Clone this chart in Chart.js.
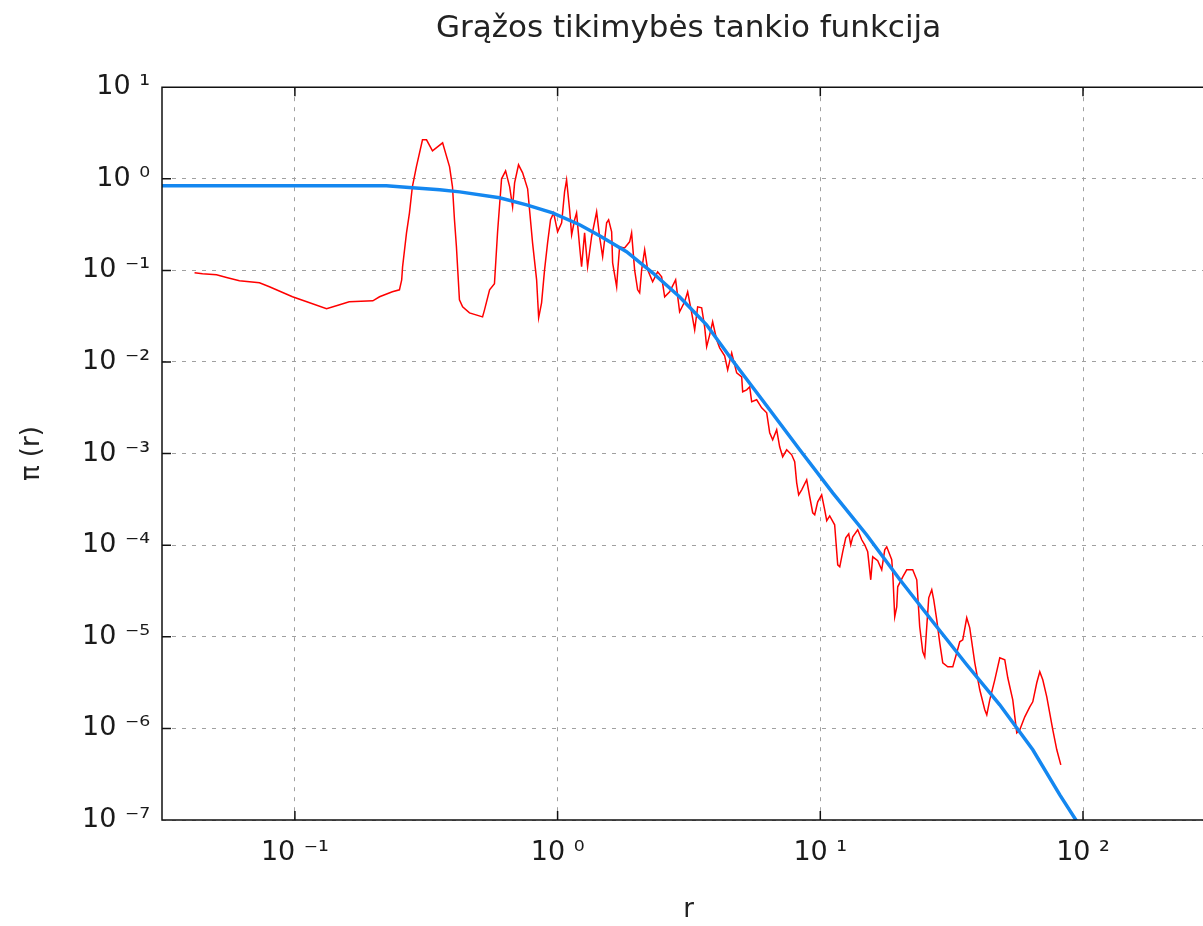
<!DOCTYPE html>
<html lang="lt">
<head>
<meta charset="utf-8">
<title>Grąžos tikimybės tankio funkcija</title>
<script src="https://cdn.jsdelivr.net/npm/chart.js@4.4.1/dist/chart.umd.min.js"></script>
<style>
  html, body { margin: 0; padding: 0; background: #fff; overflow: hidden; }
  #wrap { width: 1215px; height: 926px; }
</style>
</head>
<body>
<div id="wrap"><canvas id="c"></canvas></div>
<script>
// Empirinis tankis (raudona kreivė), nuskaityta nuo paveikslo
const redR = [
  0.0415, 0.0445, 0.0503, 0.0554, 0.0615, 0.0733, 0.0800, 0.0979, 0.111, 0.132,
  0.148, 0.161, 0.198, 0.210, 0.235, 0.250, 0.255, 0.257, 0.266, 0.273,
  0.280, 0.290, 0.306, 0.317, 0.334, 0.349, 0.365, 0.388, 0.398, 0.405,
  0.412, 0.423, 0.435, 0.462, 0.518, 0.527, 0.551, 0.575, 0.591, 0.612,
  0.634, 0.657, 0.674, 0.686, 0.710, 0.736, 0.769, 0.803, 0.832, 0.847,
  0.869, 0.892, 0.916, 0.940, 0.966, 1.000, 1.036, 1.063, 1.082, 1.111,
  1.131, 1.161, 1.181, 1.213, 1.234, 1.267, 1.301, 1.347, 1.408, 1.445,
  1.484, 1.537, 1.564, 1.606, 1.620, 1.678, 1.692, 1.722, 1.799, 1.880,
  1.913, 1.964, 2.017, 2.053, 2.089, 2.145, 2.202, 2.300, 2.403, 2.489,
  2.556, 2.670, 2.814, 2.914, 3.045, 3.127, 3.239, 3.325, 3.413, 3.535,
  3.629, 3.693, 3.792, 3.892, 4.031, 4.139, 4.324, 4.440, 4.599, 4.805,
  5.020, 5.064, 5.245, 5.385, 5.480, 5.725, 5.982, 6.251, 6.417, 6.588,
  6.823, 7.004, 7.191, 7.447, 7.783, 7.989, 8.131, 8.274, 8.495, 8.875,
  9.113, 9.357, 9.522, 9.775, 10.12, 10.39, 10.58, 10.86, 11.34, 11.65,
  11.86, 12.17, 12.50, 12.83, 13.06, 13.29, 13.88, 14.38, 14.76, 15.15,
  15.56, 15.83, 16.54, 17.13, 17.59, 17.90, 18.70, 18.87, 19.20, 19.54,
  19.71, 20.60, 21.33, 22.48, 23.29, 23.90, 24.55, 24.98, 25.42, 25.87,
  26.56, 27.03, 27.75, 28.49, 29.25, 30.56, 31.93, 33.07, 33.95, 34.85,
  36.09, 37.06, 38.73, 40.46, 42.27, 43.02, 44.17, 46.15, 48.22, 50.38,
  51.72, 54.03, 55.96, 57.45, 60.03, 62.72, 64.39, 66.68, 68.46, 70.28,
  72.79, 76.74, 79.47, 82.32
];
const redPi = [
  0.0941, 0.0918, 0.0895, 0.0830, 0.0770, 0.0732, 0.0662, 0.0515, 0.0454, 0.0381,
  0.0421, 0.0454, 0.0466, 0.0515, 0.0584, 0.0614, 0.0789, 0.1095, 0.257, 0.425,
  0.818, 1.352, 2.666, 2.666, 2.021, 2.235, 2.472, 1.352, 0.818, 0.357,
  0.181, 0.0478, 0.0400, 0.0344, 0.0311, 0.0371, 0.0614, 0.0714, 0.264, 1.0,
  1.223, 0.818, 0.495, 0.904, 1.422, 1.163, 0.778, 0.200, 0.0789, 0.0304,
  0.0443, 0.1015, 0.200, 0.357, 0.425, 0.264, 0.331, 0.721, 0.975, 0.459,
  0.245, 0.357, 0.425, 0.181, 0.1095, 0.257, 0.1095, 0.233, 0.436, 0.233,
  0.141, 0.331, 0.357, 0.264, 0.121, 0.0662, 0.0941, 0.181, 0.176, 0.205,
  0.257, 0.1015, 0.0614, 0.0569, 0.1015, 0.168, 0.1015, 0.0751, 0.0965, 0.0852,
  0.0515, 0.0584, 0.0789, 0.0353, 0.0454, 0.0584, 0.0344, 0.0225, 0.0400, 0.0391,
  0.0242, 0.01466, 0.0198, 0.0275, 0.01748, 0.01429, 0.01169, 0.00822, 0.0126, 0.00762,
  0.00689, 0.00473, 0.00497, 0.00536, 0.00368, 0.00387, 0.00316, 0.00279, 0.00169, 0.001414,
  0.00182, 0.001186, 0.000923, 0.0011, 0.00097, 0.000814, 0.00048, 0.000355, 0.000402, 0.000518,
  0.000338, 0.000226, 0.000215, 0.000298, 0.000355, 0.000244, 0.000185, 0.000209, 0.000167, 6.11e-5,
  5.81e-5, 8.47e-5, 1.204e-4, 1.332e-4, 1.01e-4, 1.235e-4, 1.473e-4, 1.146e-4, 1.01e-4, 8.47e-5,
  4.19e-5, 7.47e-5, 6.76e-5, 5.39e-5, 8.91e-5, 9.61e-5, 6.93e-5, 5.0e-5, 1.653e-5, 2.126e-5,
  3.515e-5, 4.52e-5, 5.39e-5, 5.39e-5, 4.19e-5, 1.286e-5, 6.86e-6, 6.05e-6, 1.286e-5, 2.666e-5,
  3.26e-5, 2.534e-5, 1.533e-5, 8.6e-6, 5.2e-6, 4.7e-6, 4.7e-6, 6.69e-6, 8.82e-6, 9.27e-6,
  1.612e-5, 1.254e-5, 5.2e-6, 2.64e-6, 1.596e-6, 1.408e-6, 2.052e-6, 3.39e-6, 5.9e-6, 5.61e-6,
  3.57e-6, 2.052e-6, 8.95e-7, 9.65e-7, 1.338e-6, 1.72e-6, 1.952e-6, 3.15e-6, 4.15e-6, 3.39e-6,
  2.213e-6, 9.65e-7, 5.84e-7, 4.0e-7
];

// Teorinis tankis (mėlyna kreivė)
const blueR = [0.031, 0.1, 0.223, 0.28, 0.356, 0.424, 0.601, 0.762, 0.957, 1.213, 1.445, 1.83, 2.30,
  2.91, 3.69, 4.64, 6.25, 8.35, 11.15, 15.0, 20.1, 26.8, 36.1, 48.2, 64.4, 81.6, 116];
const bluePi = [0.84, 0.84, 0.84, 0.80, 0.758, 0.72, 0.621, 0.520, 0.425, 0.315, 0.239, 0.160, 0.0942,
  0.0515, 0.0255, 0.0103, 0.00333, 0.00110, 0.000373, 0.000130, 4.19e-5, 1.46e-5, 4.95e-6, 1.81e-6,
  5.84e-7, 1.88e-7, 3.9e-8];

// Ašių žymos
const xTicks = [0.1, 1, 10, 100];
const xTickLabels = ['10 ⁻¹', '10 ⁰', '10 ¹', '10 ²'];
const yTicks = [10, 1, 0.1, 0.01, 1e-3, 1e-4, 1e-5, 1e-6, 1e-7];
const yTickLabels = ['10 ¹', '10 ⁰', '10 ⁻¹', '10 ⁻²', '10 ⁻³', '10 ⁻⁴', '10 ⁻⁵', '10 ⁻⁶', '10 ⁻⁷'];

const tickFont = { family: "'DejaVu Sans', sans-serif", size: 27 };
const textFont = "'DejaVu Sans', sans-serif";

// gnuplot stiliaus rėmas su vidinėmis žymomis
const frame = {
  id: 'frame',
  afterDraw(chart) {
    const { ctx, chartArea: a, scales } = chart;
    ctx.save();
    ctx.strokeStyle = '#111';
    ctx.lineWidth = 1.5;
    ctx.beginPath();
    ctx.moveTo(a.right, a.top);
    ctx.lineTo(a.left, a.top);
    ctx.lineTo(a.left, a.bottom);
    ctx.lineTo(a.right, a.bottom);
    xTicks.forEach(v => {
      const px = scales.x.getPixelForValue(v);
      ctx.moveTo(px, a.bottom); ctx.lineTo(px, a.bottom - 9);
      ctx.moveTo(px, a.top); ctx.lineTo(px, a.top + 9);
    });
    yTicks.forEach(v => {
      const py = scales.y.getPixelForValue(v);
      ctx.moveTo(a.left, py); ctx.lineTo(a.left + 9, py);
    });
    ctx.stroke();
    ctx.restore();
  },
};

const toPoints = (xs, ys) => xs.map((x, i) => ({ x, y: ys[i] }));

new Chart(document.getElementById('c'), {
  type: 'scatter',
  data: {
    datasets: [
      {
        label: 'teorinis',
        data: toPoints(blueR, bluePi),
        showLine: true,
        borderColor: '#1487f0',
        borderWidth: 3.5,
        pointRadius: 0,
        order: 0,
      },
      {
        label: 'empirinis',
        data: toPoints(redR, redPi),
        showLine: true,
        borderColor: '#ff0000',
        borderWidth: 1.5,
        pointRadius: 0,
        order: 1,
      },
    ],
  },
  options: {
    responsive: true,
    maintainAspectRatio: false,
    animation: false,
    layout: { padding: 0 },
    plugins: {
      legend: { display: false },
      tooltip: { enabled: false },
      title: {
        display: true,
        fullSize: false,
        text: 'Grąžos tikimybės tankio funkcija',
        color: '#222',
        font: { family: textFont, size: 31, weight: 'normal' },
        padding: { top: 10, bottom: 40 },
      },
    },
    scales: {
      x: {
        type: 'logarithmic',
        min: 0.0312,
        max: 318,
        afterBuildTicks: s => { s.ticks = xTicks.map(v => ({ value: v })); },
        afterFit: s => { s.height = 106; },
        ticks: {
          callback: (v, i) => xTickLabels[i],
          font: tickFont,
          color: '#1a1a1a',
          padding: 17,
          maxRotation: 0,
          autoSkip: false,
        },
        grid: { color: '#a0a0a0', lineWidth: 1, drawTicks: false },
        border: { display: false, dash: [4, 6] },
        title: {
          display: true,
          text: 'r',
          color: '#222',
          font: { family: textFont, size: 26 },
          padding: { top: 0, bottom: 0 },
        },
      },
      y: {
        type: 'logarithmic',
        min: 1e-7,
        max: 10,
        afterBuildTicks: s => { s.ticks = yTicks.map(v => ({ value: v })); },
        afterFit: s => { s.width = 162; },
        ticks: {
          callback: (v, i) => yTickLabels[i],
          font: tickFont,
          color: '#1a1a1a',
          padding: 12,
          autoSkip: false,
        },
        grid: { color: '#a0a0a0', lineWidth: 1, drawTicks: false },
        border: { display: false, dash: [4, 6] },
        title: {
          display: true,
          text: 'π (r)',
          color: '#222',
          font: { family: textFont, size: 26 },
          padding: { top: 17, bottom: 0 },
        },
      },
    },
  },
  plugins: [frame],
});
</script>
</body>
</html>
